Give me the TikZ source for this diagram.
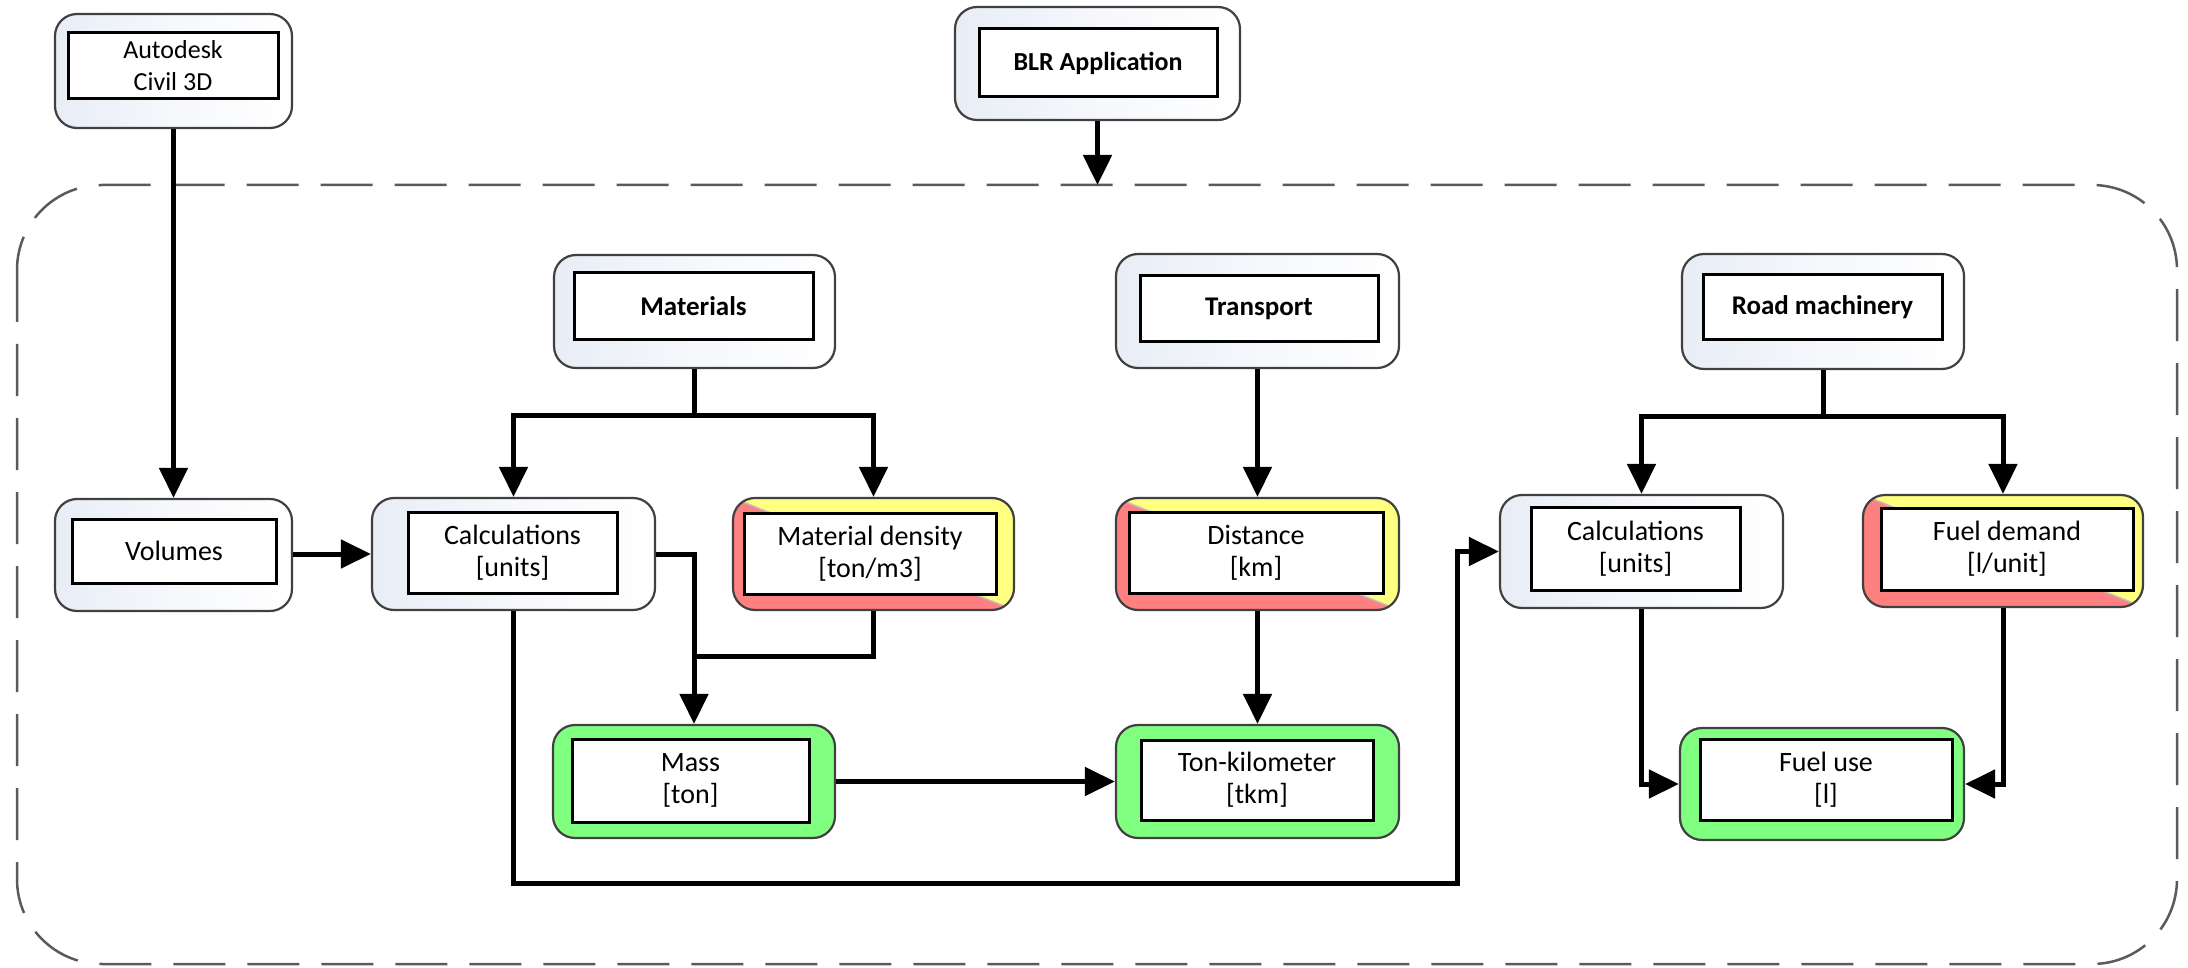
\documentclass[tikz,border=0pt]{standalone}
\usepackage{fontspec}
\setmainfont{Carlito}
\usetikzlibrary{arrows.meta,calc}
\definecolor{boxblue}{RGB}{232,237,246}
\definecolor{rred}{RGB}{255,128,128}
\definecolor{ryellow}{RGB}{255,255,128}
\definecolor{rgreen}{RGB}{128,255,128}
\definecolor{framegray}{RGB}{64,64,64}
\definecolor{dashgray}{RGB}{90,90,90}
\tikzset{
  outerbox/.style={draw=framegray, line width=2.2pt, rounded corners=22pt, inner sep=0pt},
  lightbox/.style={outerbox, left color=boxblue, right color=white, middle color=white!60!boxblue},
  greenbox/.style={outerbox, fill=rgreen},
  rybox/.style={outerbox, path picture={
     \fill[ryellow, sharp corners] (path picture bounding box.north west) -- (path picture bounding box.north east) -- (path picture bounding box.south east) -- cycle;
     \fill[rred, sharp corners] (path picture bounding box.north west) -- (path picture bounding box.south west) -- (path picture bounding box.south east) -- cycle;
     \draw[black!25, line width=1.5pt, sharp corners] (path picture bounding box.north west) -- (path picture bounding box.south east);}},
  innerbox/.style={draw=black, line width=3pt, fill=white, align=center, inner sep=0pt, font=\fontsize{28}{32}\selectfont},
  boldbox/.style={innerbox, font=\fontsize{27}{32}\selectfont\bfseries},
  conn/.style={line width=5pt, black},
  arr/.style={conn, -{Triangle[length=30pt,width=28pt]}},
  container/.style={draw=dashgray, line width=2.5pt, rounded corners=85pt, dash pattern=on 52pt off 22pt},
}
\begin{document}
\begin{tikzpicture}[x=1pt,y=-1pt]
\useasboundingbox (0,0) rectangle (2188,968);
% dashed container
\draw[container] (17,185) rectangle (2177,964);
\coordinate (cin) at (1097.5,185);

% top row
\node[lightbox, minimum width=237pt, minimum height=114pt] (autodesk) at (173.5,71) {};
\node[innerbox, minimum width=210pt, minimum height=66pt, font=\fontsize{26}{32}\selectfont] (autodesk-in) at (173,66) {Autodesk\\Civil 3D};
\node[lightbox, minimum width=285pt, minimum height=113pt] (blr) at (1097.5,63.5) {};
\node[boldbox, minimum width=238pt, minimum height=68pt, font=\fontsize{26}{32}\selectfont\bfseries] (blr-in) at (1098,63) {BLR Application};

% group row
\node[lightbox, minimum width=281pt, minimum height=113pt] (mat) at (694.5,311.5) {};
\node[boldbox, minimum width=239pt, minimum height=67pt] (mat-in) at (693.5,306.5) {Materials};
\node[lightbox, minimum width=283pt, minimum height=114pt] (trans) at (1257.5,311) {};
\node[boldbox, minimum width=238pt, minimum height=66pt] (trans-in) at (1259,309) {Transport};
\node[lightbox, minimum width=282pt, minimum height=115pt] (rm) at (1823,311.5) {};
\node[boldbox, minimum width=239pt, minimum height=65pt] (rm-in) at (1822.5,307.5) {Road machinery};

% middle row
\node[lightbox, minimum width=237pt, minimum height=112pt] (vol) at (173.5,555) {};
\node[innerbox, minimum width=204pt, minimum height=64pt] (vol-in) at (174,551) {Volumes};
\node[lightbox, minimum width=283pt, minimum height=112pt] (calc) at (513.5,554) {};
\node[innerbox, minimum width=209pt, minimum height=81pt] (calc-in) at (512.5,552.5) {Calculations\\{[units]}};
\node[rybox, minimum width=281pt, minimum height=112pt] (matden) at (873.5,554) {};
\node[innerbox, minimum width=252pt, minimum height=81pt] (matden-in) at (870,553.5) {Material density\\{[ton/m3]}};
\node[rybox, minimum width=283pt, minimum height=112pt] (dist) at (1257.5,554) {};
\node[innerbox, minimum width=254pt, minimum height=81pt] (dist-in) at (1256,552.5) {Distance\\{[km]}};
\node[lightbox, minimum width=283pt, minimum height=113pt] (calc2) at (1641.5,551.5) {};
\node[innerbox, minimum width=209pt, minimum height=83pt] (calc2-in) at (1635.5,548.5) {Calculations\\{[units]}};
\node[rybox, minimum width=280pt, minimum height=112pt] (fueld) at (2003,551) {};
\node[innerbox, minimum width=252pt, minimum height=82pt] (fueld-in) at (2007,549) {Fuel demand\\{[l/unit]}};

% bottom row
\node[greenbox, minimum width=282pt, minimum height=113pt] (mass) at (694,781.5) {};
\node[innerbox, minimum width=237pt, minimum height=83pt] (mass-in) at (690.5,780.5) {Mass\\{[ton]}};
\node[greenbox, minimum width=283pt, minimum height=113pt] (tonkm) at (1257.5,781.5) {};
\node[innerbox, minimum width=232pt, minimum height=80pt] (tonkm-in) at (1257,780) {Ton-kilometer\\{[tkm]}};
\node[greenbox, minimum width=284pt, minimum height=112pt] (fueluse) at (1822,784) {};
\node[innerbox, minimum width=252pt, minimum height=81pt] (fueluse-in) at (1826,779.5) {Fuel use\\{[l]}};

% junction coordinates
\coordinate (mb) at (694.5,415);
\coordinate (rb) at (1823,416);
\coordinate (j1) at (694,656);
\coordinate (b1) at (1457,883);

% connectors
\draw[arr] (autodesk.south) -- (vol.north);
\draw[arr] (blr.south) -- (cin);
\draw[arr] (vol.east |- calc.west) -- (calc.west);
\draw[conn] (mat.south) -- (mb);
\draw[arr] (mb) -| (calc.north);
\draw[arr] (mb) -| (matden.north);
\draw[arr] (trans.south) -- (dist.north);
\draw[conn] (rm.south) -- (rb);
\draw[arr] (rb) -| (calc2.north);
\draw[arr] (rb) -| (fueld.north);
\draw[arr] (calc.east) -| (mass.north);
\draw[conn] (matden.south) |- (j1);
\draw[arr] (mass.east) -- (tonkm.west);
\draw[arr] (dist.south) -- (tonkm.north);
\draw[arr] (calc.south) |- (b1) |- (calc2.west);
\draw[arr] (calc2.south) |- (fueluse.west);
\draw[arr] (fueld.south) |- (fueluse.east);
\end{tikzpicture}
\end{document}
